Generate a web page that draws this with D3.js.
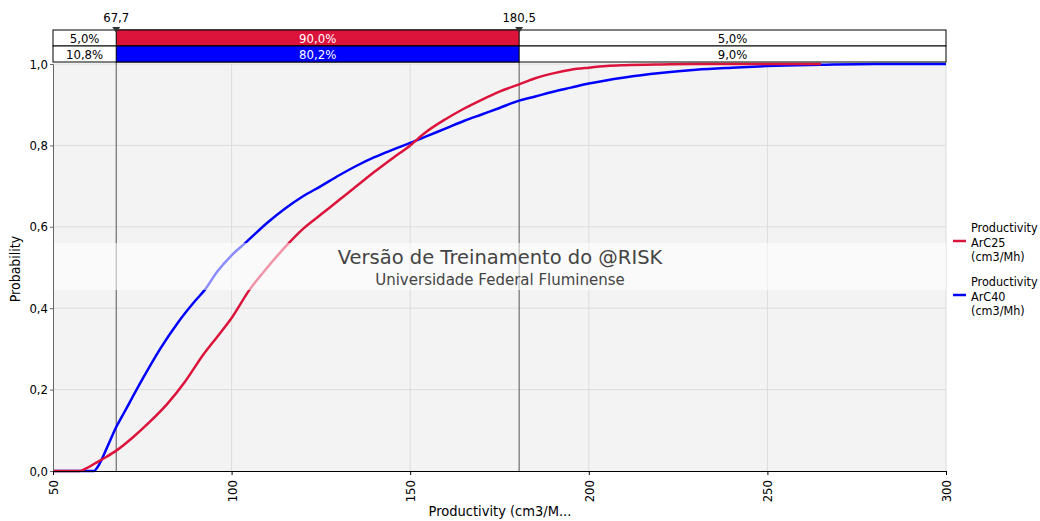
<!DOCTYPE html>
<html><head><meta charset="utf-8">
<script src="https://cdn.jsdelivr.net/npm/d3@7"></script>
<style>
body{margin:0;background:#fff;}
text{font-family:"DejaVu Sans Condensed","DejaVu Sans",sans-serif;}
</style></head>
<body><svg id="c" width="1040" height="521"></svg>
<script>
const xTicks = [50,100,150,200,250,300];
const yTicks = [0,0.2,0.4,0.6,0.8,1.0];
const seriesNames = ["Productivity ArC25 (cm3/Mh)","Productivity ArC40 (cm3/Mh)"];
const seriesColors = ["#DC143C","#0000FF"];
const markers = [67.7,180.5];
const bandLeft = ["5,0%","10,8%"];
const bandMid = ["90,0%","80,2%"];
const bandRight = ["5,0%","9,0%"];
const redX = [50,57.5,59,62,65,67.7,72,77,82,87,92,96,100,105,110,116,120,125,130,135,140,145,150,154,160,165,170,175,180.5,185,190,195,200,205,210,220,230,265];
const redY = [0,0,0.005,0.02,0.035,0.05,0.08,0.12,0.165,0.22,0.285,0.33,0.376,0.445,0.50,0.56,0.595,0.63,0.665,0.70,0.735,0.768,0.80,0.83,0.865,0.89,0.912,0.932,0.95,0.965,0.977,0.986,0.991,0.995,0.997,0.999,1.0,1.0];
const blueX = [50,61.5,62.5,65,67.7,70,75,80,85,90,92.5,96,100,103.8,110,115,120,125,130,135,140,145,150,155,160,165,170,175,180.5,185,190,195,200,210,220,230,240,250,265,280,300];
const blueY = [0,0,0.01,0.055,0.108,0.145,0.225,0.30,0.365,0.42,0.445,0.49,0.53,0.56,0.61,0.645,0.675,0.70,0.726,0.75,0.771,0.789,0.806,0.824,0.842,0.86,0.876,0.892,0.91,0.92,0.932,0.942,0.952,0.967,0.978,0.986,0.991,0.995,0.998,1.0,1.0];

const svg = d3.select("#c");
const L=53,R=946,T=64,B=471;
const x = d3.scaleLinear().domain([50,300]).range([L,R]);
const y = d3.scaleLinear().domain([0,1]).range([B,T]);
const fmt = d3.format(".1f");
const comma = v => fmt(v).replace(".",",");

svg.append("rect").attr("x",L).attr("y",T).attr("width",R-L).attr("height",B-T).attr("fill","#f3f3f3");
// grid
svg.append("g").selectAll("line").data(xTicks.slice(1)).join("line")
  .attr("x1",d=>x(d)).attr("x2",d=>x(d)).attr("y1",T).attr("y2",B).attr("stroke","#dcdcdc");
svg.append("g").selectAll("line").data(yTicks.slice(1)).join("line")
  .attr("x1",L).attr("x2",R).attr("y1",d=>y(d)).attr("y2",d=>y(d)).attr("stroke","#dcdcdc");

// marker lines
svg.append("g").selectAll("line").data(markers).join("line")
  .attr("x1",d=>x(d)).attr("x2",d=>x(d)).attr("y1",30).attr("y2",B).attr("stroke","#555").attr("stroke-width",1);

// curves
const line = d3.line().x(d=>x(d[0])).y(d=>y(d[1])).curve(d3.curveMonotoneX);
const redData = redX.map((v,i)=>[v,redY[i]]);
const blueData = blueX.map((v,i)=>[v,blueY[i]]);
svg.append("path").datum(blueData).attr("d",line).attr("fill","none").attr("stroke",seriesColors[1]).attr("stroke-width",2.5);
svg.append("path").datum(redData).attr("d",line).attr("fill","none").attr("stroke",seriesColors[0]).attr("stroke-width",2.5);

// watermark band
svg.append("rect").attr("x",L).attr("y",243).attr("width",R-L).attr("height",47).attr("fill","#fff").attr("opacity",0.55);
svg.append("text").attr("x",500).attr("y",264).attr("text-anchor","middle").attr("font-size",19.5).attr("fill","#444")
  .style("font-family","'DejaVu Sans',sans-serif").text("Versão de Treinamento do @RISK");
svg.append("text").attr("x",500).attr("y",285).attr("text-anchor","middle").attr("font-size",15).attr("fill","#444")
  .style("font-family","'DejaVu Sans',sans-serif").text("Universidade Federal Fluminense");

// axes
const yAxis = d3.axisLeft(y).tickValues(yTicks).tickFormat(comma).tickSize(3);
const gy = svg.append("g").attr("transform",`translate(${L},0)`).call(yAxis);
gy.select(".domain").attr("stroke","#666");
gy.selectAll(".tick line").attr("stroke","#666");
gy.selectAll("text").attr("font-size",13).attr("fill","#000").attr("x",-5);

const xAxis = d3.axisBottom(x).tickValues(xTicks).tickFormat(d3.format("d")).tickSize(4);
const gx = svg.append("g").attr("transform",`translate(0,${B})`).call(xAxis);
gx.select(".domain").attr("stroke","#000");
gx.selectAll(".tick line").attr("stroke","#000");
gx.selectAll("text").attr("font-size",13).attr("fill","#000")
  .attr("transform","rotate(-90)").attr("text-anchor","end").attr("x",-9).attr("y",0).attr("dy","0.35em");

svg.append("text").attr("x",500).attr("y",516).attr("text-anchor","middle").attr("font-size",14.5).text("Productivity (cm3/M...");
svg.append("text").attr("transform","translate(20,269) rotate(-90)").attr("text-anchor","middle").attr("font-size",14).text("Probability");

// top band
const rowY=[30,46], rowH=16;
rowY.forEach((ry,i)=>{
  const g = svg.append("g");
  g.append("rect").attr("x",L).attr("y",ry).attr("width",R-L).attr("height",rowH).attr("fill","#fff").attr("stroke","#000");
  g.append("rect").attr("x",x(markers[0])).attr("y",ry).attr("width",x(markers[1])-x(markers[0])).attr("height",rowH).attr("fill",seriesColors[i]).attr("stroke","#000");
  g.append("text").attr("x",(L+x(markers[0]))/2).attr("y",ry+12.5).attr("text-anchor","middle").attr("font-size",13).text(bandLeft[i]);
  g.append("text").attr("x",(x(markers[0])+x(markers[1]))/2).attr("y",ry+12.5).attr("text-anchor","middle").attr("font-size",13).attr("fill","#fff").text(bandMid[i]);
  g.append("text").attr("x",(x(markers[1])+R)/2).attr("y",ry+12.5).attr("text-anchor","middle").attr("font-size",13).text(bandRight[i]);
});
markers.forEach(m=>{
  svg.append("path").attr("d",`M${x(m)-4},27 L${x(m)+4},27 L${x(m)},33 Z`).attr("fill","#333");
  svg.append("text").attr("x",x(m)).attr("y",22).attr("text-anchor","middle").attr("font-size",13).text(comma(m));
});

// legend
const legY=[228,282];
const legLines=[["Productivity","ArC25","(cm3/Mh)"],["Productivity","ArC40","(cm3/Mh)"]];
legY.forEach((ly,i)=>{
  svg.append("line").attr("x1",953).attr("x2",966).attr("y1",ly+13).attr("y2",ly+13).attr("stroke",seriesColors[i]).attr("stroke-width",2.5);
  legLines[i].forEach((t,j)=>svg.append("text").attr("x",971).attr("y",ly+4+j*14.5).attr("font-size",12.5).text(t));
});
</script></body></html>
